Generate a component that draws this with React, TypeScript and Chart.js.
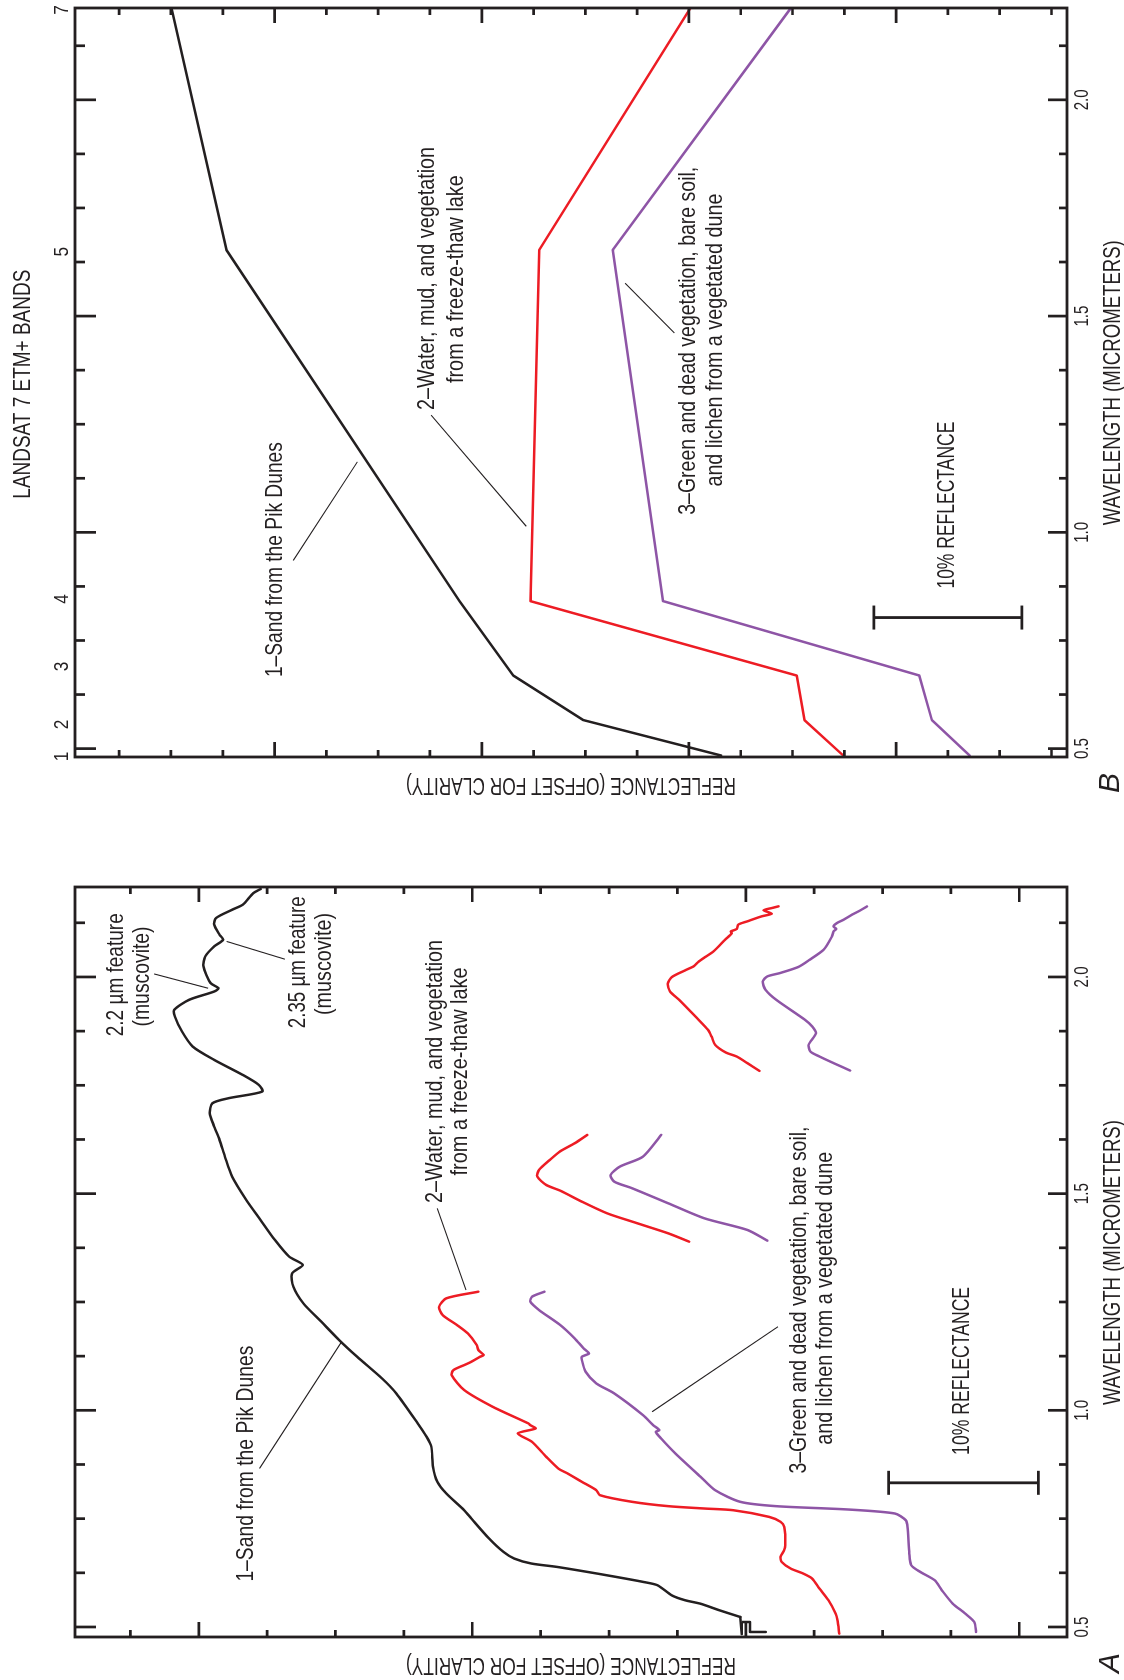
import React, { useEffect, useRef } from "react";
import { Chart, registerables } from "chart.js";

Chart.register(...registerables);

const INK = "#231f20";
const SAND_COLOR = "#231f20";
const WATER_COLOR = "#ed1c24";
const VEG_COLOR = "#8e55a6";

// ---------- Panel A: field spectra (wavelength µm, reflectance %, offset for clarity)
const A_SAND_STEP_WL = [0.4885, 0.4885, 0.5115, 0.5115, 0.4835, 0.523];
const A_SAND_STEP_R = [20.2, 21.25, 21.25, 21.8, 21.8, 21.9];

const A_SAND_WL = [0.523, 0.5386, 0.554, 0.5617, 0.5732, 0.5963, 0.604, 0.6117, 0.6233, 0.6387, 0.6464, 0.6579, 0.6733, 0.7041, 0.7503, 0.7695, 0.808, 0.835, 0.8696, 0.9158, 0.9389, 0.9697, 1.039, 1.0736, 1.1237, 1.1621, 1.2045, 1.2468, 1.2853, 1.3161, 1.3354, 1.3545, 1.393, 1.4392, 1.4854, 1.5393, 1.5855, 1.624, 1.6548, 1.6855, 1.7086, 1.7202, 1.7356, 1.751, 1.7741, 1.8087, 1.8395, 1.8742, 1.9088, 1.9242, 1.9473, 1.9665, 1.9742, 1.9858, 2.0243, 2.0474, 2.0705, 2.0858, 2.0974, 2.1205, 2.1359, 2.1551, 2.1667, 2.1936, 2.2029];
const A_SAND_R = [21.9, 23.3, 24.6, 25.6, 26.5, 27.45, 28.4, 29.6, 31.5, 34.2, 35.9, 37.06, 37.78, 38.74, 39.93, 40.41, 41.61, 42.21, 42.5, 42.61, 42.93, 43.52, 44.96, 45.92, 47.59, 48.79, 49.99, 51.19, 51.86, 51.95, 51.23, 52.14, 53.1, 54.06, 55.02, 55.97, 56.45, 56.81, 57.17, 57.46, 57.29, 56.21, 53.94, 54.18, 55.26, 57.17, 58.61, 59.33, 59.8, 59.85, 58.85, 57.17, 56.88, 57.41, 57.89, 57.77, 57.17, 56.57, 56.81, 57.17, 57.05, 55.97, 55.26, 54.54, 54.06];

const A_WATER1_WL = [0.4847, 0.5155, 0.5309, 0.5617, 0.5886, 0.6117, 0.6233, 0.6348, 0.6502, 0.6618, 0.6772, 0.6887, 0.731, 0.7426, 0.7541, 0.7695, 0.7734, 0.7788, 0.7888, 0.8042, 0.8157, 0.835, 0.8542, 0.8658, 0.8927, 0.9273, 0.9466, 0.9581, 0.9658, 0.9697, 1.0082, 1.0467, 1.0813, 1.0929, 1.1044, 1.1121, 1.1237, 1.1275, 1.1391, 1.1506, 1.1775, 1.1968, 1.2199, 1.2391, 1.2584, 1.2738];
const A_WATER1_R = [15.27, 15.39, 15.51, 15.99, 16.59, 17.08, 17.68, 18.52, 19.13, 19.2, 18.96, 18.88, 18.96, 19.2, 19.97, 22.38, 24.31, 26.73, 29.14, 31.31, 31.55, 32.52, 33.48, 34.1, 34.91, 35.86, 36.82, 35.62, 35.98, 36.1, 38.5, 40.41, 41.25, 41.13, 40.41, 39.93, 39.34, 39.1, 39.46, 39.57, 40.17, 40.89, 41.85, 42.09, 41.61, 39.46];
const A_WATER2_WL = [1.3892, 1.4084, 1.4353, 1.4546, 1.4815, 1.5069, 1.52, 1.5393, 1.5547, 1.5778, 1.597, 1.6163, 1.6355];
const A_WATER2_R = [25.33, 26.73, 29.14, 30.83, 32.52, 33.97, 34.91, 35.51, 35.39, 34.67, 34.0, 33.0, 32.16];
const A_WATER3_WL = [1.7833, 1.801, 1.8164, 1.8256, 1.8434, 1.8626, 1.878, 1.9049, 1.9473, 1.9665, 1.9842, 1.9996, 2.0166, 2.0243, 2.0358, 2.0437, 2.059, 2.086, 2.101, 2.105, 2.111, 2.121, 2.128, 2.14, 2.146, 2.154, 2.159, 2.163];
const A_WATER3_R = [20.62, 21.42, 22.14, 22.87, 23.59, 23.83, 24.07, 24.8, 26.0, 26.61, 26.77, 26.49, 25.52, 25.04, 24.68, 24.35, 23.7, 22.92, 22.47, 22.53, 22.13, 22.03, 21.46, 20.46, 19.79, 20.35, 19.79, 19.34];

const A_VEG1_WL = [0.4885, 0.5117, 0.5309, 0.554, 0.5848, 0.6079, 0.6271, 0.6425, 0.6695, 0.731, 0.7464, 0.7618, 0.7711, 0.7788, 0.7888, 0.8157, 0.8465, 0.9004, 0.935, 0.9504, 0.9543, 0.9658, 0.9889, 1.039, 1.0621, 1.089, 1.116, 1.1237, 1.1314, 1.1429, 1.166, 1.1968, 1.2314, 1.2507, 1.2622, 1.2738];
const A_VEG1_R = [6.1, 6.22, 6.82, 7.66, 8.39, 8.87, 9.84, 10.44, 10.57, 10.69, 10.81, 11.53, 14.66, 19.49, 21.9, 23.59, 24.56, 26.25, 27.21, 27.57, 27.33, 27.74, 28.42, 30.35, 31.55, 32.27, 32.52, 32.52, 32.04, 32.4, 33.0, 33.97, 35.39, 35.98, 35.86, 35.03];
const A_VEG2_WL = [1.3915, 1.4161, 1.4431, 1.4777, 1.5123, 1.5277, 1.5431, 1.5624, 1.5855, 1.6355];
const A_VEG2_R = [20.09, 21.42, 24.31, 26.73, 29.14, 30.35, 30.59, 29.98, 28.42, 27.21];
const A_VEG3_WL = [1.7841, 1.801, 1.8164, 1.828, 1.8434, 1.8703, 1.8857, 1.9011, 1.9473, 1.9704, 1.9896, 2.0012, 2.0089, 2.0227, 2.0397, 2.0628, 2.0935, 2.1051, 2.1106, 2.1166, 2.1245, 2.1321, 2.1436, 2.1536, 2.1628];
const A_VEG3_R = [14.54, 15.63, 16.59, 17.2, 17.32, 16.83, 17.08, 17.56, 19.49, 20.21, 20.4, 20.09, 19.25, 18.04, 17.25, 16.32, 15.76, 15.65, 15.47, 15.65, 15.42, 14.98, 14.42, 13.86, 13.41];

// ---------- Panel B: Landsat 7 ETM+ band-averaged spectra
const B_BAND_WL = [0.484, 0.566, 0.669, 0.841, 1.653, 2.2123];
const B_SAND_R = [23.19, 32.43, 37.12, 40.73, 56.35, 60.03];
const B_WATER_R = [15.0, 17.6, 18.12, 35.97, 35.38, 25.24];
const B_VEG_R = [6.53, 9.06, 9.9, 27.08, 30.45, 18.51];
const B_BAND_LABELS = ["1", "2", "3", "4", "5", "7"];
const B_BAND_LABEL_WL = [0.482, 0.556, 0.69, 0.846, 1.649, 2.208];

// ---------- axes
const WL_TICKS = [0.5, 0.625, 0.75, 0.875, 1.0, 1.125, 1.25, 1.375, 1.5, 1.625, 1.75, 1.875, 2.0, 2.125];
const WL_LABEL_VALUES = [0.5, 1.0, 1.5, 2.0];
const WL_LABELS = ["0.5", "1.0", "1.5", "2.0"];
const R_MIN = 0;
const R_MAX = 66.5;
const A_R_TICKS = [62.79, 58.2, 53.62, 49.04, 44.45, 39.87, 35.28, 30.7, 26.12, 21.53, 16.95, 12.36, 7.78, 3.2];
const A_R_MAJOR = [58.2, 39.87, 21.53, 3.2];
const B_R_TICKS = [63.54, 60.07, 56.59, 53.12, 49.65, 46.18, 42.71, 39.23, 35.76, 32.29, 28.82, 25.35, 21.87, 18.4, 14.93, 11.46, 7.99, 4.51, 1.04];
const B_R_MAJOR = [53.12, 39.23, 25.35, 11.46];

const FONT = '"Liberation Sans", Arial, sans-serif';

type Note = [string, number, number, number];

const A_PANEL = {
  wlMin: 0.4769,
  wlMax: 2.2076,
  padding: { left: 43, right: 47, top: 75, bottom: 57 },
  rTicks: A_R_TICKS,
  rMajor: A_R_MAJOR,
  letter: "A",
  letterPos: [17, 1111],
  yTitleX: 15,
  wlTitleCenter: 1.341,
  bands: false,
  notes: [
    ["1\u2013Sand from the Pik Dunes", 0.877, 55.02, 236],
    ["2\u2013Water, mud, and vegetation", 1.782, 42.33, 263],
    ["from a freeze-thaw lake", 1.782, 40.65, 208],
    ["3\u2013Green and dead vegetation, bare soil,", 1.2545, 17.92, 347],
    ["and lichen from a vegetated dune", 1.2585, 16.23, 293],
    ["2.2 \u00b5m feature", 2.005, 63.75, 123],
    ["(muscovite)", 2.0012, 61.96, 100],
    ["2.35 \u00b5m feature", 2.0339, 51.54, 132],
    ["(muscovite)", 2.03, 49.75, 102],
    ["10% REFLECTANCE", 1.091, 6.99, 168],
  ] as Note[],
  leaders: [
    [2.007, 61.19, 1.974, 57.58],
    [2.082, 56.33, 2.041, 52.43],
    [1.466, 42.21, 1.2776, 40.29],
    [0.8658, 54.13, 1.156, 48.67],
    [0.9967, 27.81, 1.193, 19.37],
  ],
  bar: [0.8327, 11.96, 1.92],
};

const B_PANEL = {
  wlMin: 0.4806,
  wlMax: 2.2123,
  padding: { left: 83, right: 8, top: 75, bottom: 57 },
  rTicks: B_R_TICKS,
  rMajor: B_R_MAJOR,
  letter: "B",
  letterPos: [57, 1111],
  yTitleX: 55,
  wlTitleCenter: 1.346,
  bands: true,
  notes: [
    ["1\u2013Sand from the Pik Dunes", 0.937, 53.09, 235],
    ["2\u2013Water, mud, and vegetation", 1.587, 42.85, 263],
    ["from a freeze-thaw lake", 1.5855, 40.92, 208],
    ["3\u2013Green and dead vegetation, bare soil,", 1.443, 25.35, 348],
    ["and lichen from a vegetated dune", 1.4445, 23.54, 293],
    ["10% REFLECTANCE", 1.063, 7.99, 167],
  ] as Note[],
  leaders: [
    [0.935, 51.87, 1.163, 47.57],
    [1.271, 42.63, 1.014, 36.25],
    [1.576, 29.62, 1.461, 26.32],
  ],
  bar: [0.803, 12.95, 3.02],
};

function drawText(ctx: CanvasRenderingContext2D, text: string, x: number, y: number, o: any = {}) {
  const size = o.size ?? 24;
  ctx.save();
  ctx.font = `${o.italic ? "italic " : ""}${size}px ${FONT}`;
  ctx.fillStyle = INK;
  ctx.textAlign = o.align ?? "center";
  ctx.textBaseline = "middle";
  ctx.translate(x, y);
  if (o.rot) ctx.rotate(o.rot);
  let sx = o.sx ?? 0.8;
  if (o.width) sx = o.width / ctx.measureText(text).width;
  ctx.scale(sx, 1);
  ctx.fillText(text, 0, 0);
  ctx.restore();
}

function decorPlugin(p: any) {
  return {
    id: "panelDecor",
    afterDatasetsDraw(chart: any) {
      const { ctx, chartArea: ca, scales } = chart;
      const X = (w: number) => scales.x.getPixelForValue(w);
      const Y = (r: number) => scales.y.getPixelForValue(r);
      ctx.save();
      ctx.strokeStyle = INK;
      ctx.lineCap = "butt";

      // leader lines
      ctx.lineWidth = 1.1;
      for (const l of p.leaders) {
        ctx.beginPath();
        ctx.moveTo(X(l[0]), Y(l[1]));
        ctx.lineTo(X(l[2]), Y(l[3]));
        ctx.stroke();
      }

      // frame
      ctx.lineWidth = 2.8;
      ctx.strokeRect(ca.left, ca.top, ca.right - ca.left, ca.bottom - ca.top);

      // wavelength ticks (top & bottom)
      ctx.lineWidth = 2.7;
      for (const t of WL_TICKS) {
        const major = Math.abs(t * 2 - Math.round(t * 2)) < 1e-6;
        const px = X(t);
        ctx.beginPath();
        ctx.moveTo(px, ca.bottom);
        ctx.lineTo(px, ca.bottom - (major ? 19 : 8));
        ctx.moveTo(px, ca.top);
        ctx.lineTo(px, ca.top + (major ? 21 : 10));
        ctx.stroke();
      }
      // reflectance ticks (left & right)
      for (const r of p.rTicks) {
        const major = p.rMajor.includes(r);
        const py = Y(r);
        const len = major ? 15 : 7;
        ctx.beginPath();
        ctx.moveTo(ca.left, py);
        ctx.lineTo(ca.left + len, py);
        ctx.moveTo(ca.right, py);
        ctx.lineTo(ca.right - len, py);
        ctx.stroke();
      }

      // 10% reflectance scale bar
      const [bw, br1, br2] = p.bar;
      ctx.lineWidth = 2.8;
      ctx.beginPath();
      ctx.moveTo(X(bw), Y(br1));
      ctx.lineTo(X(bw), Y(br2));
      ctx.moveTo(X(bw) - 12, Y(br1));
      ctx.lineTo(X(bw) + 12, Y(br1));
      ctx.moveTo(X(bw) - 12, Y(br2));
      ctx.lineTo(X(bw) + 12, Y(br2));
      ctx.stroke();

      // wavelength tick labels
      WL_LABEL_VALUES.forEach((v, i) => {
        drawText(ctx, WL_LABELS[i], X(v), ca.bottom + 15, { size: 21, width: 21 });
      });
      drawText(ctx, "WAVELENGTH (MICROMETERS)", X(p.wlTitleCenter), 1113, { size: 24, width: 285 });
      drawText(ctx, "REFLECTANCE (OFFSET FOR CLARITY)", p.yTitleX, (ca.top + ca.bottom) / 2, {
        size: 24,
        width: 330,
        rot: -Math.PI / 2,
      });
      if (p.bands) {
        B_BAND_LABELS.forEach((b, i) => {
          drawText(ctx, b, X(B_BAND_LABEL_WL[i]), 62, { size: 21, sx: 0.82 });
        });
        drawText(ctx, "LANDSAT 7 ETM+ BANDS", X(1.3426), 23.5, { size: 24, width: 229 });
      }
      for (const n of p.notes as Note[]) {
        drawText(ctx, n[0], X(n[1]), Y(n[2]), { size: 24, width: n[3] });
      }
      drawText(ctx, p.letter, p.letterPos[0], p.letterPos[1], { size: 30, italic: true, sx: 1 });
      ctx.restore();
    },
  };
}

const pts = (wl: number[], r: number[]) => wl.map((w, i) => ({ x: w, y: r[i] }));

function line(data: { x: number; y: number }[], color: string, tension: number) {
  return {
    data,
    showLine: true,
    borderColor: color,
    backgroundColor: color,
    borderWidth: 2.5,
    pointRadius: 0,
    pointHoverRadius: 0,
    tension,
    fill: false,
    borderCapStyle: "round",
    borderJoinStyle: "round",
  };
}

function buildChart(canvas: HTMLCanvasElement, p: any, datasets: any[]) {
  return new Chart(canvas, {
    type: "scatter",
    data: { datasets },
    options: {
      animation: false,
      responsive: false,
      devicePixelRatio: 1,
      events: [],
      layout: { padding: p.padding },
      plugins: { legend: { display: false }, tooltip: { enabled: false } },
      scales: {
        x: { type: "linear", min: p.wlMin, max: p.wlMax, display: false },
        y: { type: "linear", min: R_MIN, max: R_MAX, display: false },
      },
    },
    plugins: [decorPlugin(p)],
  } as any);
}

export default function App() {
  const refA = useRef<HTMLCanvasElement>(null);
  const refB = useRef<HTMLCanvasElement>(null);

  useEffect(() => {
    document.body.style.margin = "0";
    document.body.style.overflow = "hidden";
    const T = 0.25;
    const a = buildChart(refA.current!, A_PANEL, [
      line(pts(A_SAND_STEP_WL, A_SAND_STEP_R), SAND_COLOR, 0),
      line(pts(A_SAND_WL, A_SAND_R), SAND_COLOR, T),
      line(pts(A_WATER1_WL, A_WATER1_R), WATER_COLOR, T),
      line(pts(A_WATER2_WL, A_WATER2_R), WATER_COLOR, T),
      line(pts(A_WATER3_WL, A_WATER3_R), WATER_COLOR, T),
      line(pts(A_VEG1_WL, A_VEG1_R), VEG_COLOR, T),
      line(pts(A_VEG2_WL, A_VEG2_R), VEG_COLOR, T),
      line(pts(A_VEG3_WL, A_VEG3_R), VEG_COLOR, T),
    ]);
    const b = buildChart(refB.current!, B_PANEL, [
      line(pts(B_BAND_WL, B_SAND_R), SAND_COLOR, 0),
      line(pts(B_BAND_WL, B_WATER_R), WATER_COLOR, 0),
      line(pts(B_BAND_WL, B_VEG_R), VEG_COLOR, 0),
    ]);
    return () => {
      a.destroy();
      b.destroy();
    };
  }, []);

  return (
    <div
      style={{
        position: "absolute",
        left: 0,
        top: 0,
        width: 1680,
        height: 1124,
        background: "#ffffff",
        transformOrigin: "0 0",
        transform: "translate(0px, 1680px) rotate(-90deg)",
      }}
    >
      <canvas ref={refA} width={840} height={1124} style={{ position: "absolute", left: 0, top: 0 }} />
      <canvas ref={refB} width={840} height={1124} style={{ position: "absolute", left: 840, top: 0 }} />
    </div>
  );
}
